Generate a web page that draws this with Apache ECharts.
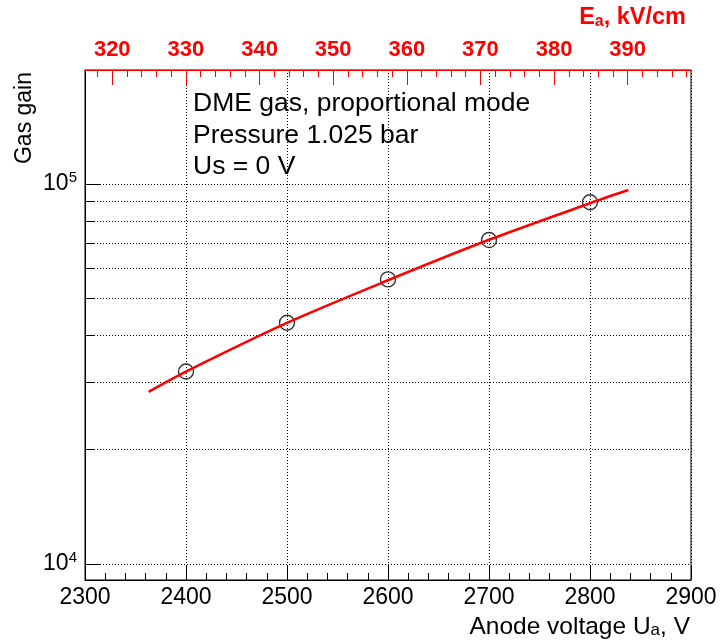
<!DOCTYPE html>
<html><head><meta charset="utf-8">
<script src="https://cdn.jsdelivr.net/npm/echarts@6/dist/echarts.min.js"></script>
<style>html,body{margin:0;padding:0;background:#fff}#c{width:720px;height:640px}</style>
</head><body><div id="c"></div>
<script>
// ---- data ----
const voltage = [2400, 2500, 2600, 2700, 2800];
const gain = [32100, 43150, 56100, 71200, 89500];
const fitVoltage = [2363, 2400, 2500, 2600, 2700, 2800, 2838];
const fitGain = [28400, 32100, 43100, 55800, 71300, 89000, 96400];
const uMin = 2300, uMax = 2900, uStep = 100;
const eMin = 316.3, eMax = 398.6;
const eMajorTicks = [320, 330, 340, 350, 360, 370, 380, 390];
const eMinorTicks = [318, 322, 324, 326, 328, 332, 334, 336, 338, 342, 344, 346, 348, 352, 354, 356, 358, 362, 364, 366, 368, 372, 374, 376, 378, 382, 384, 386, 388, 392, 394, 396, 398];
const gainMin = 9080, gainMax = 199500;
const gainMajorTicks = [10000, 100000];
const gainMinorTicks = [10000, 20000, 30000, 40000, 50000, 60000, 70000, 80000, 90000, 100000];
const notes = ['DME gas, proportional mode', 'Pressure 1.025 bar', 'Us = 0 V'];
const xTitle = ['Anode voltage U', 'a', ', V'];
const topTitle = ['E', 'a', ', kV/cm'];
const yTitle = 'Gas gain';

const FONT = '"Liberation Sans", Arial, Helvetica, sans-serif';
const dotted = { type: [1, 2], color: '#000', width: 1 };

function powLabel(v) {
  const e = Math.round(Math.log10(v));
  if (Math.abs(v - Math.pow(10, e)) > 1e-6 * v) return '';
  return '{b|10}{s|' + e + '}';
}

const chart = echarts.init(document.getElementById('c'), null, { renderer: 'canvas' });
chart.setOption({
  animation: false,
  backgroundColor: '#fff',
  grid: { left: 85, right: 29, top: 70, bottom: 60, show: true, borderColor: '#000', borderWidth: 1,
          backgroundColor: 'transparent', containLabel: false, outerBoundsMode: 'none' },
  xAxis: [
    { type: 'value', position: 'bottom', min: uMin, max: uMax, interval: uStep,
      axisLine: { show: true, onZero: false, lineStyle: { color: '#000', width: 1 } },
      axisTick: { show: true, inside: true, length: 15, lineStyle: { color: '#000' } },
      minorTick: { show: true, splitNumber: 5, length: 7, lineStyle: { color: '#000' } },
      splitLine: { show: true, lineStyle: dotted },
      axisLabel: { show: true, margin: 6, fontSize: 23, color: '#000', fontFamily: FONT, hideOverlap: false,
                   formatter: v => String(v) } },
    { type: 'value', position: 'top', min: eMin, max: eMax,
      axisLine: { show: true, onZero: false, lineStyle: { color: '#ff0000', width: 1 } },
      axisTick: { show: true, inside: true, length: 15, customValues: eMajorTicks, lineStyle: { color: '#ff0000' } },
      axisLabel: { show: true, customValues: eMajorTicks, margin: 9, fontSize: 22, fontWeight: 'bold',
                   color: '#ff0000', fontFamily: FONT, hideOverlap: false, formatter: v => String(v) },
      splitLine: { show: false } },
    { type: 'value', position: 'top', min: eMin, max: eMax,
      axisLine: { show: false },
      axisTick: { show: true, inside: true, length: 7, customValues: eMinorTicks, lineStyle: { color: '#ff0000' } },
      axisLabel: { show: false }, splitLine: { show: false } }
  ],
  yAxis: [
    { type: 'log', logBase: 10, position: 'left', min: gainMin, max: gainMax,
      axisLine: { show: true, onZero: false, lineStyle: { color: '#000', width: 1 } },
      axisTick: { show: true, inside: true, length: 9, customValues: gainMinorTicks, lineStyle: { color: '#000' } },
      minorTick: { show: false },
      splitLine: { show: true, lineStyle: dotted },
      axisLabel: { show: false } },
    { type: 'log', logBase: 10, position: 'left', min: gainMin, max: gainMax,
      axisLine: { show: false },
      axisTick: { show: true, inside: true, length: 16, customValues: gainMajorTicks, lineStyle: { color: '#000' } },
      splitLine: { show: false },
      axisLabel: { show: true, margin: 8, color: '#000', fontFamily: FONT, hideOverlap: false,
                   formatter: powLabel,
                   rich: { b: { fontSize: 23, lineHeight: 28, fontFamily: FONT, color: '#000' },
                           s: { fontSize: 15, lineHeight: 15, verticalAlign: 'top', fontFamily: FONT, color: '#000' } } } }
  ],
  series: [
    { type: 'scatter', xAxisIndex: 0, yAxisIndex: 0, silent: true, z: 3,
      data: voltage.map((u, i) => [u, gain[i]]),
      symbol: 'circle', symbolSize: 15,
      itemStyle: { color: 'rgba(0,0,0,0)', borderColor: '#000', borderWidth: 1.4 } },
    { type: 'line', xAxisIndex: 0, yAxisIndex: 0, silent: true, z: 4,
      data: fitVoltage.map((u, i) => [u, fitGain[i]]),
      smooth: 0.3, showSymbol: false, symbol: 'none',
      lineStyle: { color: '#ff0000', width: 2.6 } }
  ],
  graphic: [
    ...notes.map((t, i) => ({ type: 'text', x: 193, y: 104 + 31.5 * i, silent: true,
      style: { text: t, fontSize: 26.5, fontFamily: FONT, fill: '#000', align: 'left', verticalAlign: 'middle' } })),
    { type: 'text', x: 690, y: 627, silent: true,
      style: { text: '{n|' + xTitle[0] + '}{s|' + xTitle[1] + '}{n|' + xTitle[2] + '}', align: 'right', verticalAlign: 'middle', fill: '#000',
               rich: { n: { fontSize: 24.5, lineHeight: 24, fontFamily: FONT, fill: '#000' },
                       s: { fontSize: 17, lineHeight: 13, verticalAlign: 'bottom', fontFamily: FONT, fill: '#000' } } } },
    { type: 'text', x: 686, y: 18, silent: true,
      style: { text: '{b|' + topTitle[0] + '}{s|' + topTitle[1] + '}{b|' + topTitle[2] + '}', align: 'right', verticalAlign: 'middle', fill: '#ff0000',
               rich: { b: { fontSize: 23.5, lineHeight: 24, fontWeight: 'bold', fontFamily: FONT, fill: '#ff0000' },
                       s: { fontSize: 16, lineHeight: 13, verticalAlign: 'bottom', fontWeight: 'bold', fontFamily: FONT, fill: '#ff0000' } } } },
    { type: 'text', x: 25, y: 72, rotation: Math.PI / 2, silent: true,
      style: { text: yTitle, fontSize: 23, fontFamily: FONT, fill: '#000', align: 'right', verticalAlign: 'middle' } }
  ]
});
</script></body></html>
